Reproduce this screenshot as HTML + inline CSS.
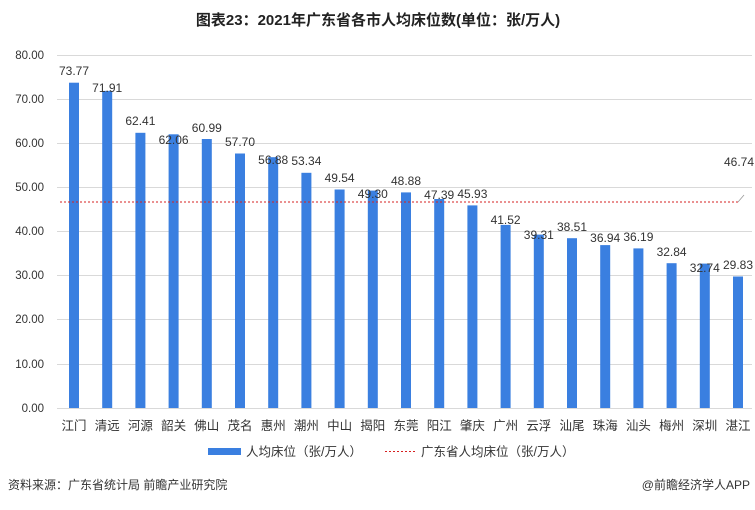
<!DOCTYPE html>
<html><head><meta charset="utf-8"><style>
body{margin:0;background:#fff;}
svg text{font-family:"Liberation Sans","Noto Sans CJK SC",sans-serif;}
</style></head><body>
<svg width="755" height="505" viewBox="0 0 755 505" xmlns="http://www.w3.org/2000/svg">
<rect width="755" height="505" fill="#fff"/>
<text x="378" y="25" text-anchor="middle" font-size="15" font-weight="bold" fill="#222">图表23：2021年广东省各市人均床位数(单位：张/万人)</text>
<g stroke="#d9d9d9" stroke-width="1">
<line x1="57" x2="752" y1="55.5" y2="55.5"/><line x1="57" x2="752" y1="99.5" y2="99.5"/>
<line x1="57" x2="752" y1="143.5" y2="143.5"/><line x1="57" x2="752" y1="187.5" y2="187.5"/>
<line x1="57" x2="752" y1="231.5" y2="231.5"/><line x1="57" x2="752" y1="275.5" y2="275.5"/>
<line x1="57" x2="752" y1="319.5" y2="319.5"/><line x1="57" x2="752" y1="364.5" y2="364.5"/>
<line x1="57" x2="752" y1="408.5" y2="408.5"/>
</g>
<g font-size="11.5" fill="#333" text-anchor="end">
<text x="44" y="59">80.00</text><text x="44" y="103">70.00</text><text x="44" y="147">60.00</text>
<text x="44" y="191">50.00</text><text x="44" y="235">40.00</text><text x="44" y="279">30.00</text>
<text x="44" y="323">20.00</text><text x="44" y="368">10.00</text><text x="44" y="412">0.00</text>
</g>
<g fill="#3a7fe0">
<rect x="69" y="82.7" width="10" height="325.3"/>
<rect x="102.2" y="90.9" width="10" height="317.1"/>
<rect x="135.4" y="132.8" width="10" height="275.2"/>
<rect x="168.6" y="134.3" width="10" height="273.7"/>
<rect x="201.8" y="139.0" width="10" height="269"/>
<rect x="235" y="153.5" width="10" height="254.5"/>
<rect x="268.2" y="157.2" width="10" height="250.8"/>
<rect x="301.4" y="172.8" width="10" height="235.2"/>
<rect x="334.6" y="189.5" width="10" height="218.5"/>
<rect x="367.8" y="190.6" width="10" height="217.4"/>
<rect x="401" y="192.4" width="10" height="215.6"/>
<rect x="434.2" y="199.0" width="10" height="209"/>
<rect x="467.4" y="205.4" width="10" height="202.6"/>
<rect x="500.6" y="224.9" width="10" height="183.1"/>
<rect x="533.8" y="234.6" width="10" height="173.4"/>
<rect x="567" y="238.2" width="10" height="169.8"/>
<rect x="600.2" y="245.1" width="10" height="162.9"/>
<rect x="633.4" y="248.4" width="10" height="159.6"/>
<rect x="666.6" y="263.2" width="10" height="144.8"/>
<rect x="699.8" y="263.6" width="10" height="144.4"/>
<rect x="733" y="276.5" width="10" height="131.5"/>
</g>
<g font-size="12" fill="#333" text-anchor="middle">
<text x="74" y="75">73.77</text>
<text x="107.2" y="92">71.91</text>
<text x="140.4" y="125">62.41</text>
<text x="173.6" y="144">62.06</text>
<text x="206.8" y="132">60.99</text>
<text x="240" y="146">57.70</text>
<text x="273.2" y="164">56.88</text>
<text x="306.4" y="165">53.34</text>
<text x="339.6" y="182">49.54</text>
<text x="372.8" y="198">49.30</text>
<text x="406" y="185">48.88</text>
<text x="439.2" y="199">47.39</text>
<text x="472.4" y="198">45.93</text>
<text x="505.6" y="224">41.52</text>
<text x="538.8" y="239">39.31</text>
<text x="572" y="231">38.51</text>
<text x="605.2" y="242">36.94</text>
<text x="638.4" y="241">36.19</text>
<text x="671.6" y="256">32.84</text>
<text x="704.8" y="272">32.74</text>
<text x="738" y="269">29.83</text>
</g>
<g font-size="12.5" fill="#333" text-anchor="middle">
<text x="74" y="430">江门</text><text x="107.2" y="430">清远</text><text x="140.4" y="430">河源</text>
<text x="173.6" y="430">韶关</text><text x="206.8" y="430">佛山</text><text x="240" y="430">茂名</text>
<text x="273.2" y="430">惠州</text><text x="306.4" y="430">潮州</text><text x="339.6" y="430">中山</text>
<text x="372.8" y="430">揭阳</text><text x="406" y="430">东莞</text><text x="439.2" y="430">阳江</text>
<text x="472.4" y="430">肇庆</text><text x="505.6" y="430">广州</text><text x="538.8" y="430">云浮</text>
<text x="572" y="430">汕尾</text><text x="605.2" y="430">珠海</text><text x="638.4" y="430">汕头</text>
<text x="671.6" y="430">梅州</text><text x="704.8" y="430">深圳</text><text x="738" y="430">湛江</text>
</g>
<line x1="60" x2="738" y1="202" y2="202" stroke="#d62020" stroke-width="1" stroke-dasharray="2,2"/>
<line x1="738" x2="744" y1="202" y2="195" stroke="#999" stroke-width="0.8"/>
<text x="724" y="166" font-size="12" fill="#333">46.74</text>
<rect x="208" y="448" width="33" height="7" fill="#3a7fe0"/>
<text x="246" y="456" font-size="12.5" fill="#333">人均床位（张/万人）</text>
<line x1="385" x2="416" y1="451.5" y2="451.5" stroke="#d62020" stroke-dasharray="2,2"/>
<text x="421" y="456" font-size="12.5" fill="#333">广东省人均床位（张/万人）</text>
<text x="8" y="489" font-size="12" fill="#333">资料来源：广东省统计局 前瞻产业研究院</text>
<text x="750" y="489" font-size="12" fill="#333" text-anchor="end">@前瞻经济学人APP</text>
</svg>
</body></html>
